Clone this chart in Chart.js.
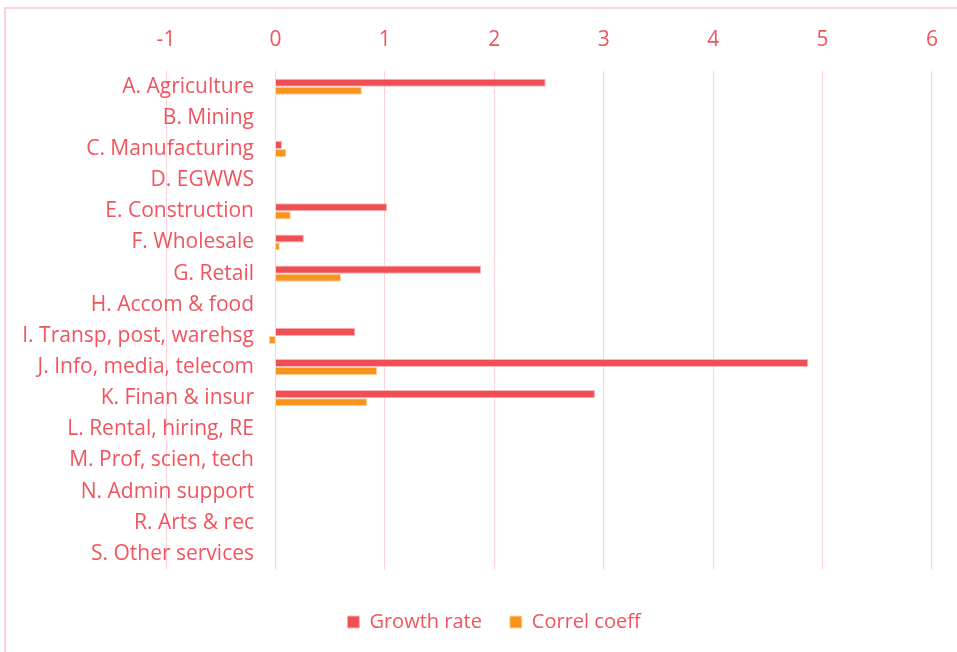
<!DOCTYPE html>
<html>
<head>
<meta charset="utf-8">
<script src="https://cdn.jsdelivr.net/npm/chart.js@4/dist/chart.umd.min.js"></script>
<style>
  html, body { margin: 0; padding: 0; background: #ffffff; overflow: hidden; }
  #wrap { position: relative; width: 957px; height: 652px; }
  #frame { position: absolute; left: 4px; top: 7px; width: 1000px; height: 700px;
           border-top: 2px solid #fbd3d8; border-left: 2px solid #fbd3d8; box-sizing: border-box; }
  canvas { position: absolute; left: 0; top: 0; }
</style>
</head>
<body>
<div id="wrap">
  <div id="frame"></div>
  <canvas id="c" width="957" height="652"></canvas>
</div>
<script>
const categories = [
  "A. Agriculture", "B. Mining", "C. Manufacturing", "D. EGWWS", "E. Construction",
  "F. Wholesale", "G. Retail", "H. Accom & food", "I. Transp, post, warehsg",
  "J. Info, media, telecom", "K. Finan & insur", "L. Rental, hiring, RE",
  "M. Prof, scien, tech", "N. Admin support", "R. Arts & rec", "S. Other services"
];
const growthRate = [2.47, null, 0.06, null, 1.02, 0.26, 1.88, null, 0.73, 4.87, 2.92, null, null, null, null, null];
const correlCoeff = [0.79, null, 0.10, null, 0.14, 0.04, 0.60, null, -0.06, 0.93, 0.84, null, null, null, null, null];
const xTicks = [-1, 0, 1, 2, 3, 4, 5, 6];

const TEXT = '#f0545d';
const GRID = '#fbd3d8';
const FONT_FAMILY = '"Open Sans", Lato, sans-serif';
const FONT_SIZE = 21;

// measure widest category label to right-align mirrored labels
const mctx = document.createElement('canvas').getContext('2d');
mctx.font = FONT_SIZE + 'px ' + FONT_FAMILY;
let widest = 0;
categories.forEach(c => { widest = Math.max(widest, mctx.measureText(c).width); });
const PAD_LEFT = 55;
const PLOT_LEFT = 166;
const LABEL_RIGHT = 254;

new Chart(document.getElementById('c'), {
  type: 'bar',
  data: {
    labels: categories,
    datasets: [
      { label: 'Growth rate', data: growthRate, backgroundColor: '#f04e55',
        borderColor: '#f8b8bc', borderWidth: 1, categoryPercentage: 0.52, barPercentage: 1.0 },
      { label: 'Correl coeff', data: correlCoeff, backgroundColor: '#f7941d',
        borderColor: '#fcd2a6', borderWidth: 1, categoryPercentage: 0.52, barPercentage: 1.0 }
    ]
  },
  options: {
    indexAxis: 'y',
    responsive: false,
    animation: false,
    layout: { padding: { left: PAD_LEFT, right: 24, top: 8, bottom: 10 } },
    scales: {
      x: {
        position: 'top',
        min: -1, max: 6,
        afterBuildTicks: s => { s.ticks = xTicks.map(v => ({ value: v })); },
        grid: { color: GRID, lineWidth: 1, drawTicks: false },
        border: { display: false },
        ticks: { color: TEXT, font: { family: FONT_FAMILY, size: FONT_SIZE }, padding: 19 }
      },
      y: {
        grid: { display: false, drawTicks: false },
        border: { display: false },
        afterFit: s => { s.width = PLOT_LEFT - PAD_LEFT; },
        ticks: {
          mirror: true, crossAlign: 'far',
          padding: LABEL_RIGHT - PLOT_LEFT - widest,
          color: TEXT, font: { family: FONT_FAMILY, size: FONT_SIZE }
        }
      }
    },
    plugins: {
      legend: {
        position: 'bottom',
        title: { display: true, text: ' ', font: { size: 10 }, padding: { top: 2.5, bottom: 0 } },
        labels: { color: TEXT, font: { family: FONT_FAMILY, size: 20 },
                  boxWidth: 12, boxHeight: 12, padding: 28 }
      },
      tooltip: { enabled: false }
    }
  }
});
</script>
</body>
</html>
